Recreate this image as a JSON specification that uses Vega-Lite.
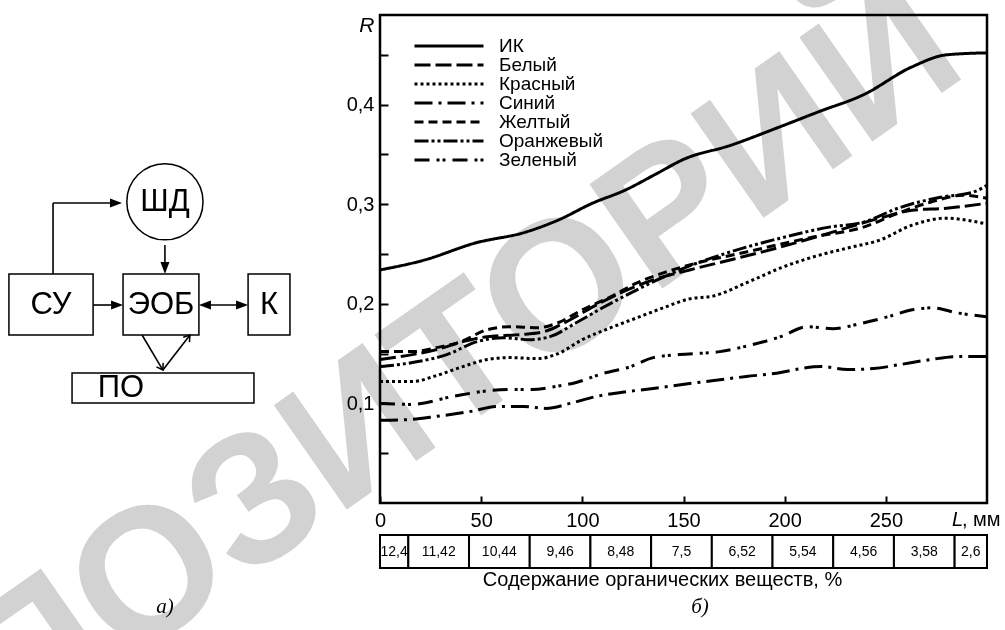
{
 "$schema": "https://vega.github.io/schema/vega-lite/v6.json",
 "width": 607,
 "height": 488,
 "autosize": {"type": "none"},
 "padding": {"left": 380, "top": 15, "right": 18, "bottom": 127},
 "background": "white",
 "config": {
  "font": "Liberation Sans",
  "view": {"stroke": "black", "strokeWidth": 2.5},
  "axis": {"domain": false, "grid": false, "tickColor": "black", "tickWidth": 2, "labelColor": "black", "titleColor": "black"}
 },
 "layer": [
  {
   "data": {"values": [
    {"series": "ИК", "L": 0, "R": 0.234}, {"series": "ИК", "L": 22, "R": 0.244}, {"series": "ИК", "L": 47, "R": 0.261}, {"series": "ИК", "L": 72, "R": 0.272}, {"series": "ИК", "L": 88, "R": 0.284}, {"series": "ИК", "L": 105, "R": 0.301}, {"series": "ИК", "L": 121, "R": 0.314}, {"series": "ИК", "L": 137, "R": 0.331}, {"series": "ИК", "L": 150, "R": 0.345}, {"series": "ИК", "L": 173, "R": 0.359}, {"series": "ИК", "L": 198, "R": 0.378}, {"series": "ИК", "L": 217, "R": 0.393}, {"series": "ИК", "L": 239, "R": 0.41}, {"series": "ИК", "L": 263, "R": 0.438}, {"series": "ИК", "L": 280, "R": 0.45}, {"series": "ИК", "L": 300, "R": 0.452},
    {"series": "Белый", "L": 0, "R": 0.144}, {"series": "Белый", "L": 16, "R": 0.149}, {"series": "Белый", "L": 28, "R": 0.154}, {"series": "Белый", "L": 41, "R": 0.162}, {"series": "Белый", "L": 53, "R": 0.167}, {"series": "Белый", "L": 69, "R": 0.169}, {"series": "Белый", "L": 81, "R": 0.172}, {"series": "Белый", "L": 94, "R": 0.184}, {"series": "Белый", "L": 107, "R": 0.199}, {"series": "Белый", "L": 120, "R": 0.212}, {"series": "Белый", "L": 135, "R": 0.224}, {"series": "Белый", "L": 153, "R": 0.234}, {"series": "Белый", "L": 175, "R": 0.245}, {"series": "Белый", "L": 198, "R": 0.257}, {"series": "Белый", "L": 222, "R": 0.271}, {"series": "Белый", "L": 247, "R": 0.286}, {"series": "Белый", "L": 263, "R": 0.294}, {"series": "Белый", "L": 280, "R": 0.296}, {"series": "Белый", "L": 300, "R": 0.301},
    {"series": "Красный", "L": 0, "R": 0.122}, {"series": "Красный", "L": 16, "R": 0.122}, {"series": "Красный", "L": 28, "R": 0.128}, {"series": "Красный", "L": 41, "R": 0.137}, {"series": "Красный", "L": 53, "R": 0.144}, {"series": "Красный", "L": 64, "R": 0.146}, {"series": "Красный", "L": 78, "R": 0.145}, {"series": "Красный", "L": 88, "R": 0.15}, {"series": "Красный", "L": 100, "R": 0.164}, {"series": "Красный", "L": 114, "R": 0.176}, {"series": "Красный", "L": 127, "R": 0.186}, {"series": "Красный", "L": 140, "R": 0.196}, {"series": "Красный", "L": 153, "R": 0.205}, {"series": "Красный", "L": 165, "R": 0.208}, {"series": "Красный", "L": 181, "R": 0.221}, {"series": "Красный", "L": 198, "R": 0.236}, {"series": "Красный", "L": 214, "R": 0.247}, {"series": "Красный", "L": 231, "R": 0.256}, {"series": "Красный", "L": 247, "R": 0.264}, {"series": "Красный", "L": 263, "R": 0.279}, {"series": "Красный", "L": 280, "R": 0.286}, {"series": "Красный", "L": 290, "R": 0.284}, {"series": "Красный", "L": 300, "R": 0.28},
    {"series": "Синий", "L": 0, "R": 0.083}, {"series": "Синий", "L": 16, "R": 0.084}, {"series": "Синий", "L": 28, "R": 0.087}, {"series": "Синий", "L": 45, "R": 0.092}, {"series": "Синий", "L": 58, "R": 0.097}, {"series": "Синий", "L": 71, "R": 0.097}, {"series": "Синий", "L": 82, "R": 0.095}, {"series": "Синий", "L": 94, "R": 0.1}, {"series": "Синий", "L": 107, "R": 0.107}, {"series": "Синий", "L": 119, "R": 0.111}, {"series": "Синий", "L": 135, "R": 0.115}, {"series": "Синий", "L": 153, "R": 0.12}, {"series": "Синий", "L": 165, "R": 0.123}, {"series": "Синий", "L": 181, "R": 0.127}, {"series": "Синий", "L": 198, "R": 0.131}, {"series": "Синий", "L": 208, "R": 0.135}, {"series": "Синий", "L": 218, "R": 0.137}, {"series": "Синий", "L": 231, "R": 0.134}, {"series": "Синий", "L": 244, "R": 0.135}, {"series": "Синий", "L": 257, "R": 0.139}, {"series": "Синий", "L": 272, "R": 0.144}, {"series": "Синий", "L": 285, "R": 0.147}, {"series": "Синий", "L": 300, "R": 0.147},
    {"series": "Желтый", "L": 0, "R": 0.152}, {"series": "Желтый", "L": 16, "R": 0.152}, {"series": "Желтый", "L": 28, "R": 0.156}, {"series": "Желтый", "L": 40, "R": 0.162}, {"series": "Желтый", "L": 53, "R": 0.174}, {"series": "Желтый", "L": 64, "R": 0.177}, {"series": "Желтый", "L": 78, "R": 0.176}, {"series": "Желтый", "L": 88, "R": 0.181}, {"series": "Желтый", "L": 100, "R": 0.194}, {"series": "Желтый", "L": 114, "R": 0.207}, {"series": "Желтый", "L": 127, "R": 0.221}, {"series": "Желтый", "L": 140, "R": 0.231}, {"series": "Желтый", "L": 153, "R": 0.239}, {"series": "Желтый", "L": 181, "R": 0.252}, {"series": "Желтый", "L": 214, "R": 0.267}, {"series": "Желтый", "L": 239, "R": 0.277}, {"series": "Желтый", "L": 256, "R": 0.291}, {"series": "Желтый", "L": 272, "R": 0.302}, {"series": "Желтый", "L": 288, "R": 0.309}, {"series": "Желтый", "L": 300, "R": 0.306},
    {"series": "Оранжевый", "L": 0, "R": 0.137}, {"series": "Оранжевый", "L": 16, "R": 0.141}, {"series": "Оранжевый", "L": 33, "R": 0.149}, {"series": "Оранжевый", "L": 48, "R": 0.162}, {"series": "Оранжевый", "L": 61, "R": 0.166}, {"series": "Оранжевый", "L": 74, "R": 0.164}, {"series": "Оранжевый", "L": 84, "R": 0.167}, {"series": "Оранжевый", "L": 97, "R": 0.181}, {"series": "Оранжевый", "L": 110, "R": 0.196}, {"series": "Оранжевый", "L": 124, "R": 0.211}, {"series": "Оранжевый", "L": 137, "R": 0.224}, {"series": "Оранжевый", "L": 153, "R": 0.238}, {"series": "Оранжевый", "L": 173, "R": 0.252}, {"series": "Оранжевый", "L": 198, "R": 0.266}, {"series": "Оранжевый", "L": 222, "R": 0.277}, {"series": "Оранжевый", "L": 239, "R": 0.282}, {"series": "Оранжевый", "L": 256, "R": 0.296}, {"series": "Оранжевый", "L": 277, "R": 0.307}, {"series": "Оранжевый", "L": 293, "R": 0.312}, {"series": "Оранжевый", "L": 300, "R": 0.319},
    {"series": "Зеленый", "L": 0, "R": 0.1}, {"series": "Зеленый", "L": 16, "R": 0.099}, {"series": "Зеленый", "L": 36, "R": 0.107}, {"series": "Зеленый", "L": 55, "R": 0.113}, {"series": "Зеленый", "L": 65, "R": 0.114}, {"series": "Зеленый", "L": 75, "R": 0.114}, {"series": "Зеленый", "L": 87, "R": 0.117}, {"series": "Зеленый", "L": 97, "R": 0.121}, {"series": "Зеленый", "L": 110, "R": 0.13}, {"series": "Зеленый", "L": 124, "R": 0.137}, {"series": "Зеленый", "L": 135, "R": 0.146}, {"series": "Зеленый", "L": 148, "R": 0.149}, {"series": "Зеленый", "L": 168, "R": 0.152}, {"series": "Зеленый", "L": 184, "R": 0.159}, {"series": "Зеленый", "L": 198, "R": 0.167}, {"series": "Зеленый", "L": 211, "R": 0.177}, {"series": "Зеленый", "L": 224, "R": 0.175}, {"series": "Зеленый", "L": 237, "R": 0.18}, {"series": "Зеленый", "L": 251, "R": 0.187}, {"series": "Зеленый", "L": 263, "R": 0.194}, {"series": "Зеленый", "L": 273, "R": 0.196}, {"series": "Зеленый", "L": 285, "R": 0.191}, {"series": "Зеленый", "L": 300, "R": 0.187}
   ]},
   "mark": {"type": "line", "color": "black", "strokeWidth": 3, "interpolate": "monotone"},
   "encoding": {
    "x": {
     "field": "L", "type": "quantitative",
     "scale": {"domain": [0, 300], "nice": false, "zero": false},
     "axis": {"values": [0, 50, 100, 150, 200, 250], "tickSize": -7, "labelPadding": 14, "labelFontSize": 20, "labelFlush": false, "labelOverlap": false,
      "title": "Содержание органических веществ, %", "titleFontSize": 20, "titleFontWeight": "normal", "titleX": 282, "titleY": 76, "titleAlign": "center", "titleBaseline": "middle"}
    },
    "y": {
     "field": "R", "type": "quantitative",
     "scale": {"domain": [0, 0.49], "nice": false, "zero": false},
     "axis": {"values": [0.05, 0.1, 0.15, 0.2, 0.25, 0.3, 0.35, 0.4, 0.45], "tickSize": -8, "labelPadding": 14, "labelFontSize": 20, "labelOverlap": false,
      "labelExpr": "round(datum.value*100) % 10 == 0 ? replace(format(datum.value, '.1f'), '.', ',') : ''",
      "title": "R", "titleAngle": 0, "titleX": -6, "titleY": 16, "titleAlign": "right", "titleBaseline": "alphabetic", "titleFontStyle": "italic", "titleFontWeight": "normal", "titleFontSize": 21}
    },
    "strokeDash": {
     "field": "series", "type": "nominal",
     "scale": {"domain": ["ИК", "Белый", "Красный", "Синий", "Желтый", "Оранжевый", "Зеленый"],
      "range": [[1, 0], [16, 5], [3, 3], [18, 6, 3, 6], [9, 5], [14, 3, 3, 3, 3, 3], [15, 7, 3, 3, 3, 7]]},
     "legend": {"orient": "none", "legendX": 33, "legendY": 22, "title": null, "symbolType": "stroke", "symbolSize": 4761, "symbolStrokeWidth": 3, "symbolStrokeColor": "black", "clipHeight": 18, "rowPadding": -1, "labelFontSize": 19, "labelOffset": 14, "labelColor": "black", "padding": 0}
    }
   }
  },
  {
   "data": {"values": [{"word": "РЕПОЗИТОРИЙ"}]},
   "mark": {"type": "text", "angle": 325, "fontSize": 185, "fontWeight": "bold", "color": "#d2d2d2", "align": "center", "baseline": "middle", "blend": "multiply"},
   "encoding": {
    "x": {"datum": -9.9, "type": "quantitative"},
    "y": {"datum": 0.0713, "type": "quantitative"},
    "text": {"field": "word"}
   }
  },
  {
   "data": {"values": [
    {"block": "СУ", "x1": -183.4, "x2": -141.8, "y1": 0.1687, "y2": 0.2299},
    {"block": "ЭОБ", "x1": -127.0, "x2": -89.5, "y1": 0.1687, "y2": 0.2299},
    {"block": "К", "x1": -65.2, "x2": -44.5, "y1": 0.1687, "y2": 0.2299},
    {"block": "ПО", "x1": -152.2, "x2": -62.3, "y1": 0.1004, "y2": 0.1305}
   ]},
   "mark": {"type": "rect", "fill": "white", "fillOpacity": 0, "stroke": "black", "strokeWidth": 1.5},
   "encoding": {
    "x": {"field": "x1", "type": "quantitative"},
    "x2": {"field": "x2"},
    "y": {"field": "y1", "type": "quantitative"},
    "y2": {"field": "y2"}
   }
  },
  {
   "data": {"values": [{"block": "ШД", "x": -106.3, "y": 0.3025}]},
   "mark": {"type": "point", "shape": "circle", "size": 5809, "filled": false, "color": "black", "strokeWidth": 1.5, "opacity": 1},
   "encoding": {
    "x": {"field": "x", "type": "quantitative"},
    "y": {"field": "y", "type": "quantitative"}
   }
  },
  {
   "data": {"values": [
    {"x1": -161.6, "y1": 0.2299, "x2": -161.6, "y2": 0.3012},
    {"x1": -161.6, "y1": 0.3012, "x2": -131.0, "y2": 0.3012},
    {"x1": -106.3, "y1": 0.2591, "x2": -106.3, "y2": 0.24},
    {"x1": -141.8, "y1": 0.1988, "x2": -131.5, "y2": 0.1988},
    {"x1": -85.5, "y1": 0.1988, "x2": -69.2, "y2": 0.1988},
    {"x1": -117.6, "y1": 0.1687, "x2": -107.3, "y2": 0.1335},
    {"x1": -107.3, "y1": 0.1335, "x2": -93.9, "y2": 0.1687}
   ]},
   "mark": {"type": "rule", "color": "black", "strokeWidth": 1.6},
   "encoding": {
    "x": {"field": "x1", "type": "quantitative"},
    "y": {"field": "y1", "type": "quantitative"},
    "x2": {"field": "x2"},
    "y2": {"field": "y2"}
   }
  },
  {
   "data": {"values": [
    {"x": -127.5, "y": 0.3012, "dir": 0},
    {"x": -106.3, "y": 0.2299, "dir": 90},
    {"x": -127.0, "y": 0.1988, "dir": 0},
    {"x": -89.5, "y": 0.1988, "dir": 180},
    {"x": -65.2, "y": 0.1988, "dir": 0}
   ]},
   "mark": {"type": "point", "shape": "M0,0L-2,-0.75L-2,0.75Z", "filled": true, "color": "black", "size": 144, "opacity": 1},
   "encoding": {
    "x": {"field": "x", "type": "quantitative"},
    "y": {"field": "y", "type": "quantitative"},
    "angle": {"field": "dir", "type": "quantitative", "scale": null}
   }
  },
  {
   "data": {"values": [
    {"x": -107.3, "y": 0.1335, "dir": 59},
    {"x": -93.9, "y": 0.1687, "dir": 308}
   ]},
   "mark": {"type": "point", "shape": "M-2,-1.3L0,0L-2,1.3", "filled": false, "color": "black", "strokeWidth": 1.5, "size": 36, "opacity": 1},
   "encoding": {
    "x": {"field": "x", "type": "quantitative"},
    "y": {"field": "y", "type": "quantitative"},
    "angle": {"field": "dir", "type": "quantitative", "scale": null}
   }
  },
  {
   "data": {"values": [
    {"t": "ШД", "x": -106.3, "y": 0.3025},
    {"t": "СУ", "x": -162.6, "y": 0.1988},
    {"t": "ЭОБ", "x": -108.2, "y": 0.1988},
    {"t": "К", "x": -54.9, "y": 0.1988},
    {"t": "ПО", "x": -128.0, "y": 0.1155}
   ]},
   "mark": {"type": "text", "fontSize": 31, "color": "black", "align": "center", "baseline": "middle"},
   "encoding": {
    "x": {"field": "x", "type": "quantitative"},
    "y": {"field": "y", "type": "quantitative"},
    "text": {"field": "t"}
   }
  },
  {
   "data": {"values": [{"caption": "а)"}]},
   "mark": {"type": "text", "font": "Liberation Serif", "fontStyle": "italic", "fontSize": 21, "color": "black", "align": "center", "baseline": "middle"},
   "encoding": {
    "x": {"datum": -106.3, "type": "quantitative"},
    "y": {"datum": -0.1044, "type": "quantitative"},
    "text": {"field": "caption"}
   }
  },
  {
   "data": {"values": [
    {"lo": 0, "hi": 14, "pct": "12,4"},
    {"lo": 14, "hi": 44, "pct": "11,42"},
    {"lo": 44, "hi": 74, "pct": "10,44"},
    {"lo": 74, "hi": 104, "pct": "9,46"},
    {"lo": 104, "hi": 134, "pct": "8,48"},
    {"lo": 134, "hi": 164, "pct": "7,5"},
    {"lo": 164, "hi": 194, "pct": "6,52"},
    {"lo": 194, "hi": 224, "pct": "5,54"},
    {"lo": 224, "hi": 254, "pct": "4,56"},
    {"lo": 254, "hi": 284, "pct": "3,58"},
    {"lo": 284, "hi": 300, "pct": "2,6"}
   ]},
   "mark": {"type": "rect", "fill": "white", "stroke": "black", "strokeWidth": 2},
   "encoding": {
    "x": {"field": "lo", "type": "quantitative"},
    "x2": {"field": "hi"},
    "y": {"datum": -0.0321, "type": "quantitative"},
    "y2": {"datum": -0.0653}
   }
  },
  {
   "data": {"values": [
    {"mid": 7, "pct": "12,4"},
    {"mid": 29, "pct": "11,42"},
    {"mid": 59, "pct": "10,44"},
    {"mid": 89, "pct": "9,46"},
    {"mid": 119, "pct": "8,48"},
    {"mid": 149, "pct": "7,5"},
    {"mid": 179, "pct": "6,52"},
    {"mid": 209, "pct": "5,54"},
    {"mid": 239, "pct": "4,56"},
    {"mid": 269, "pct": "3,58"},
    {"mid": 292, "pct": "2,6"}
   ]},
   "mark": {"type": "text", "fontSize": 14, "color": "black", "align": "center", "baseline": "middle"},
   "encoding": {
    "x": {"field": "mid", "type": "quantitative"},
    "y": {"datum": -0.0487, "type": "quantitative"},
    "text": {"field": "pct"}
   }
  },
  {
   "data": {"values": [{"sym": "L"}]},
   "mark": {"type": "text", "fontSize": 20, "fontStyle": "italic", "color": "black", "align": "left", "baseline": "alphabetic"},
   "encoding": {
    "x": {"datum": 282.7, "type": "quantitative"},
    "y": {"datum": -0.0231, "type": "quantitative"},
    "text": {"field": "sym"}
   }
  },
  {
   "data": {"values": [{"unit": ", мм"}]},
   "mark": {"type": "text", "fontSize": 20, "color": "black", "align": "left", "baseline": "alphabetic"},
   "encoding": {
    "x": {"datum": 287.6, "type": "quantitative"},
    "y": {"datum": -0.0231, "type": "quantitative"},
    "text": {"field": "unit"}
   }
  },
  {
   "data": {"values": [{"caption": "б)"}]},
   "mark": {"type": "text", "font": "Liberation Serif", "fontStyle": "italic", "fontSize": 21, "color": "black", "align": "center", "baseline": "middle"},
   "encoding": {
    "x": {"datum": 158.2, "type": "quantitative"},
    "y": {"datum": -0.1044, "type": "quantitative"},
    "text": {"field": "caption"}
   }
  }
 ]
}
